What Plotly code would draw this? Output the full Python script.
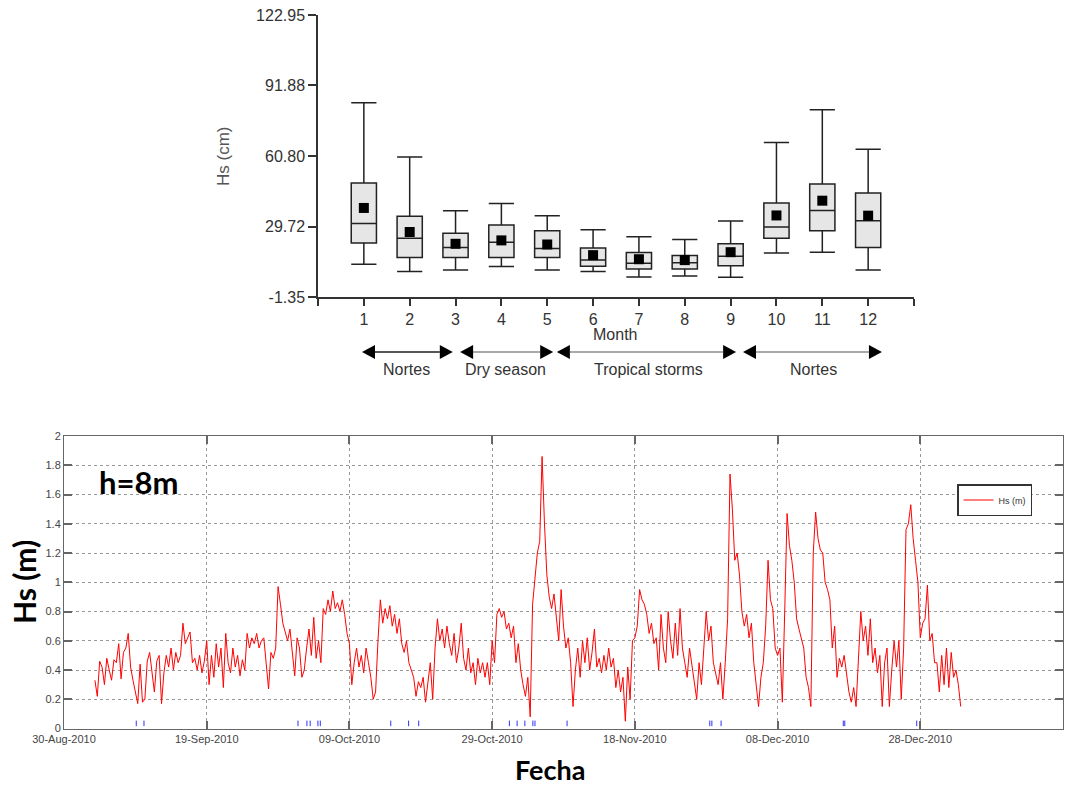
import plotly.graph_objects as go
import pandas as pd

W, H = 1089, 788

# ---------------- Top panel: monthly box statistics (Hs, cm) ----------------
months = list(range(1, 13))
upper_whisker = [84.3, 60.4, 36.7, 39.9, 34.5, 28.3, 25.2, 24.0, 32.1, 66.8, 81.2, 63.8]
q3_vals       = [48.9, 34.2, 26.7, 30.4, 27.8, 20.2, 18.3, 16.9, 22.1, 40.1, 48.5, 44.5]
median_vals   = [31.1, 24.6, 20.5, 22.8, 20.0, 15.0, 13.5, 13.8, 16.6, 29.5, 36.8, 32.3]
q1_vals       = [22.5, 16.1, 16.1, 16.1, 16.1, 12.2, 11.0, 11.0, 12.4, 24.5, 27.8, 20.5]
lower_whisker = [13.1, 9.9, 10.6, 12.1, 10.6, 9.9, 7.5, 7.9, 7.4, 18.0, 18.4, 10.6]
mean_vals     = [37.9, 27.3, 22.1, 23.6, 21.8, 17.1, 15.3, 14.9, 18.4, 34.6, 41.1, 34.5]
y_ticks_cm = [-1.35, 29.72, 60.80, 91.88, 122.95]
y_ticklabels_cm = ["-1.35", "29.72", "60.80", "91.88", "122.95"]
seasons = ["Nortes", "Dry season", "Tropical storms", "Nortes"]

# ---------------- Bottom panel: Hs time series (m) ----------------
series_start = "2010-09-03 08:00"
hs = [
    0.33, 0.22, 0.46, 0.42, 0.30, 0.48, 0.40, 0.33, 0.47, 0.45, 0.58, 0.34,
    0.52, 0.55, 0.65, 0.42, 0.33, 0.25, 0.17, 0.44, 0.18, 0.20, 0.46, 0.52,
    0.40, 0.25, 0.46, 0.50, 0.17, 0.38, 0.50, 0.42, 0.55, 0.40, 0.52, 0.45,
    0.50, 0.72, 0.58, 0.62, 0.66, 0.45, 0.48, 0.40, 0.50, 0.38, 0.46, 0.60,
    0.30, 0.50, 0.35, 0.58, 0.42, 0.55, 0.28, 0.65, 0.45, 0.38, 0.55, 0.42,
    0.50, 0.36, 0.47, 0.40, 0.65, 0.55, 0.62, 0.58, 0.65, 0.55, 0.60, 0.62,
    0.45, 0.27, 0.52, 0.48, 0.55, 0.97, 0.85, 0.72, 0.66, 0.60, 0.68, 0.50,
    0.36, 0.62, 0.55, 0.35, 0.40, 0.55, 0.68, 0.50, 0.76, 0.48, 0.60, 0.45,
    0.82, 0.78, 0.88, 0.80, 0.94, 0.82, 0.86, 0.80, 0.88, 0.78, 0.65, 0.58,
    0.30, 0.45, 0.55, 0.42, 0.50, 0.38, 0.55, 0.45, 0.35, 0.20, 0.25, 0.60,
    0.88, 0.72, 0.82, 0.75, 0.84, 0.70, 0.78, 0.65, 0.75, 0.58, 0.52, 0.60,
    0.45, 0.40, 0.35, 0.22, 0.32, 0.28, 0.35, 0.18, 0.30, 0.45, 0.20, 0.55,
    0.75, 0.60, 0.68, 0.55, 0.70, 0.58, 0.50, 0.65, 0.45, 0.55, 0.72, 0.48,
    0.40, 0.55, 0.38, 0.45, 0.30, 0.48, 0.38, 0.45, 0.35, 0.45, 0.30, 0.60,
    0.45, 0.78, 0.82, 0.76, 0.80, 0.68, 0.72, 0.62, 0.70, 0.45, 0.58, 0.40,
    0.30, 0.22, 0.35, 0.08, 0.85, 1.05, 1.20, 1.28, 1.86, 1.40, 1.05, 0.90,
    0.82, 0.92, 0.78, 0.60, 0.95, 0.70, 0.55, 0.62, 0.45, 0.15, 0.40, 0.55,
    0.35, 0.60, 0.45, 0.62, 0.40, 0.52, 0.68, 0.42, 0.48, 0.38, 0.50, 0.40,
    0.55, 0.42, 0.48, 0.28, 0.40, 0.25, 0.35, 0.05, 0.42, 0.20, 0.60, 0.62,
    0.70, 0.95, 0.88, 0.85, 0.78, 0.65, 0.72, 0.58, 0.62, 0.40, 0.78, 0.55,
    0.45, 0.80, 0.60, 0.48, 0.72, 0.50, 0.82, 0.55, 0.45, 0.35, 0.55, 0.42,
    0.30, 0.20, 0.45, 0.30, 0.55, 0.80, 0.60, 0.70, 0.45, 0.38, 0.30, 0.45,
    0.20, 0.45, 0.75, 1.74, 1.50, 1.15, 1.20, 1.05, 0.80, 0.70, 0.78, 0.62,
    0.72, 0.45, 0.30, 0.15, 0.35, 0.45, 0.70, 1.15, 0.88, 0.82, 0.55, 0.50,
    0.55, 0.18, 0.80, 1.47, 1.25, 1.15, 1.00, 0.75, 0.68, 0.62, 0.55, 0.35,
    0.28, 0.15, 1.20, 1.48, 1.30, 1.22, 1.20, 1.00, 0.95, 0.88, 0.55, 0.70,
    0.35, 0.48, 0.42, 0.50, 0.38, 0.25, 0.18, 0.28, 0.15, 0.45, 0.80, 0.60,
    0.70, 0.50, 0.75, 0.45, 0.55, 0.38, 0.50, 0.15, 0.45, 0.55, 0.15, 0.40,
    0.60, 0.42, 0.60, 0.20, 0.55, 1.36, 1.40, 1.53, 1.30, 1.15, 1.00, 0.62,
    0.72, 0.75, 0.98, 0.60, 0.65, 0.45, 0.45, 0.25, 0.50, 0.30, 0.55, 0.28,
    0.52, 0.35, 0.40, 0.30, 0.15,
]
hs_times = pd.date_range(series_start, periods=len(hs), freq="8h")

blue_mark_times = [
    "2010-09-09 03:00", "2010-09-10 05:00", "2010-10-01 19:00", "2010-10-03 01:00",
    "2010-10-03 12:00", "2010-10-04 14:00", "2010-10-04 22:00", "2010-10-14 19:00",
    "2010-10-17 07:00", "2010-10-18 17:00", "2010-10-31 10:00", "2010-11-01 12:00",
    "2010-11-02 14:00", "2010-11-03 17:00", "2010-11-04 00:00", "2010-11-08 12:00",
    "2010-11-28 12:00", "2010-11-28 19:00", "2010-11-30 02:00", "2010-12-17 05:00",
    "2010-12-17 10:00", "2010-12-27 12:00",
]
blue_mark_level = [0.035] * len(blue_mark_times)


def px(x):
    return x / W


def py(y):
    return 1 - y / H


# pixel layout of the two panels
TOP_L, TOP_R, TOP_T, TOP_B = 318, 914, 15, 297
BOT_L, BOT_R, BOT_T, BOT_B = 64, 1063, 436, 728.5


def month_to_px(m):
    return TOP_L + (TOP_R - TOP_L) * m / 13.0


fig = go.Figure()

fig.add_trace(go.Box(
    x=months, q1=q1_vals, median=median_vals, q3=q3_vals,
    lowerfence=lower_whisker, upperfence=upper_whisker,
    width=0.55, whiskerwidth=1, fillcolor="#e6e6e6",
    line=dict(color="#222222", width=1.5), boxpoints=False,
    xaxis="x", yaxis="y", showlegend=False, hoverinfo="skip",
))
fig.add_trace(go.Scatter(
    x=months, y=mean_vals, mode="markers",
    marker=dict(symbol="square", size=10, color="black"),
    xaxis="x", yaxis="y", showlegend=False,
))

fig.add_trace(go.Scatter(
    x=hs_times, y=hs, mode="lines", name="Hs (m)",
    line=dict(color="#ff0000", width=1),
    xaxis="x2", yaxis="y2",
))
fig.add_trace(go.Scatter(
    x=blue_mark_times, y=blue_mark_level, mode="markers",
    marker=dict(symbol="line-ns", size=4, line=dict(color="#3030ff", width=1)),
    xaxis="x2", yaxis="y2", showlegend=False,
))

arial = "Liberation Sans, Arial, sans-serif"
narrow = "Liberation Sans Narrow, Arial Narrow, Liberation Sans, sans-serif"
bold = "Lato, Open Sans, sans-serif"

fig.update_layout(
    width=W, height=H, margin=dict(l=0, r=0, t=0, b=0, pad=0, autoexpand=False),
    paper_bgcolor="white", plot_bgcolor="white",
    xaxis=dict(
        domain=[px(TOP_L), px(TOP_R)], anchor="y", range=[0, 13], automargin=False,
        tickvals=list(range(14)), ticktext=[""] + [str(m) for m in months] + [""],
        ticks="outside", ticklen=7, tickwidth=1.5, tickcolor="#333",
        showline=True, linecolor="#333", linewidth=1.5,
        showgrid=False, zeroline=False,
        tickfont=dict(family=arial, size=16, color="#333"),
    ),
    yaxis=dict(
        domain=[py(TOP_B), py(TOP_T)], anchor="x", range=[-1.35, 122.95], automargin=False,
        tickvals=y_ticks_cm, ticktext=y_ticklabels_cm,
        ticks="outside", ticklen=8, tickwidth=1.5, tickcolor="#333",
        showline=True, linecolor="#333", linewidth=1.5,
        showgrid=False, zeroline=False,
        tickfont=dict(family=arial, size=16, color="#333"),
    ),
    xaxis2=dict(
        domain=[px(BOT_L), px(BOT_R)], anchor="y2", type="date", automargin=False,
        range=["2010-08-30", "2011-01-17"],
        tick0="2010-08-30", dtick=20 * 86400000, tickformat="%d-%b-%Y",
        ticks="inside", ticklen=8, tickwidth=1.5, tickcolor="#666",
        showline=True, mirror="ticks", linecolor="#666", linewidth=1,
        showgrid=True, gridcolor="#999", griddash="dot", gridwidth=1,
        zeroline=False,
        tickfont=dict(family=narrow, size=11, color="#444"),
    ),
    yaxis2=dict(
        domain=[py(BOT_B), py(BOT_T)], anchor="x2", range=[0, 2], dtick=0.2, automargin=False,
        ticks="inside", ticklen=8, tickwidth=1.5, tickcolor="#666",
        showline=True, mirror="ticks", linecolor="#666", linewidth=1,
        showgrid=True, gridcolor="#999", griddash="dot", gridwidth=1,
        zeroline=False,
        tickfont=dict(family=narrow, size=11, color="#444"),
    ),
    legend=dict(
        x=px(957), y=py(484), xanchor="left", yanchor="top",
        bgcolor="white", bordercolor="#333", borderwidth=1.5,
        font=dict(family=narrow, size=9, color="#333"),
        itemwidth=30, tracegroupgap=0,
    ),
)

annotations = [
    dict(text="Hs (cm)", x=px(224), y=py(157), textangle=-90,
         font=dict(family=arial, size=17, color="#555")),
    dict(text="Month", x=px(615), y=py(334),
         font=dict(family=arial, size=16, color="#333")),
    dict(text="h=8m", x=px(138), y=py(482),
         font=dict(family=bold, size=31, color="black", weight="bold")),
    dict(text="Hs (m)", x=px(24), y=py(582), textangle=-90,
         font=dict(family=bold, size=30, color="black", weight="bold")),
    dict(text="Fecha", x=px(550), y=py(769),
         font=dict(family=bold, size=27, color="black", weight="bold")),
]

# season arrows under the month axis
arrow_spans = [(0.96, 2.94, "#555555"), (3.10, 5.13, "#aaaaaa"),
               (5.21, 9.12, "#aaaaaa"), (9.27, 12.30, "#aaaaaa")]
label_pos = [1.92, 4.10, 7.2, 10.8]
ay_px = 352
head_len, head_half = 13, 7
shapes = []
for (m0, m1, col), lab, lm in zip(arrow_spans, seasons, label_pos):
    x0, x1 = month_to_px(m0), month_to_px(m1)
    shapes.append(dict(type="line", xref="paper", yref="paper",
                       x0=px(x0 + head_len), x1=px(x1 - head_len),
                       y0=py(ay_px), y1=py(ay_px),
                       line=dict(color=col, width=2)))
    shapes.append(dict(type="path", xref="paper", yref="paper",
                       path=f"M {px(x0)} {py(ay_px)} L {px(x0 + head_len)} {py(ay_px - head_half)} "
                            f"L {px(x0 + head_len)} {py(ay_px + head_half)} Z",
                       fillcolor="black", line=dict(width=0)))
    shapes.append(dict(type="path", xref="paper", yref="paper",
                       path=f"M {px(x1)} {py(ay_px)} L {px(x1 - head_len)} {py(ay_px - head_half)} "
                            f"L {px(x1 - head_len)} {py(ay_px + head_half)} Z",
                       fillcolor="black", line=dict(width=0)))
    annotations.append(dict(text=lab, x=px(month_to_px(lm)), y=py(369),
                            font=dict(family=arial, size=16, color="#333")))

for a in annotations:
    a.update(xref="paper", yref="paper", showarrow=False,
             xanchor="center", yanchor="middle")

fig.update_layout(annotations=annotations, shapes=shapes)

fig.write_html("out.html")
